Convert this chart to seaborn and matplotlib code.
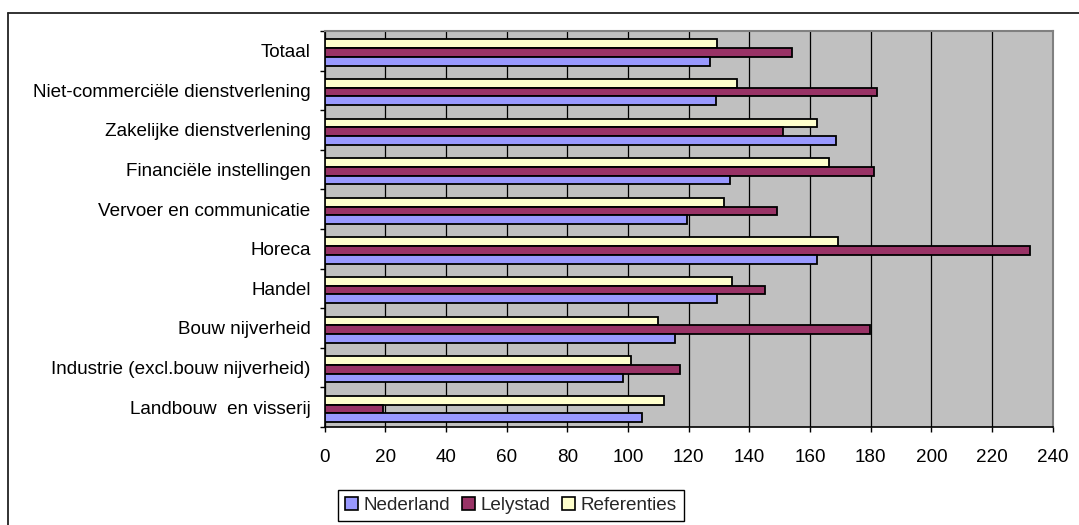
import numpy as np
import pandas as pd
import matplotlib
matplotlib.use("Agg")
import matplotlib.pyplot as plt
from matplotlib.patches import Patch
from matplotlib.lines import Line2D
import seaborn as sns

# Sectors, top to bottom
sectors = [
    "Totaal",
    "Niet-commerciële dienstverlening",
    "Zakelijke dienstverlening",
    "Financiële instellingen",
    "Vervoer en communicatie",
    "Horeca",
    "Handel",
    "Bouw nijverheid",
    "Industrie (excl.bouw nijverheid)",
    "Landbouw  en visserij",
]

nederland = [127.1, 128.9, 168.6, 133.5, 119.6, 162.2, 129.4, 115.4, 98.4, 104.8]
lelystad = [154.2, 182.1, 151.2, 181.0, 149.2, 232.5, 145.3, 179.9, 117.2, 19.3]
referenties = [129.4, 135.8, 162.3, 166.4, 131.8, 169.3, 134.2, 110.0, 100.9, 112.0]

series_names = ["Nederland", "Lelystad", "Referenties"]
series_colors = {"Nederland": "#9999FF", "Lelystad": "#993366", "Referenties": "#FFFFCC"}
x_ticks = list(range(0, 241, 20))

df = pd.concat([
    pd.DataFrame({"sector": sectors, "serie": "Nederland", "waarde": nederland}),
    pd.DataFrame({"sector": sectors, "serie": "Lelystad", "waarde": lelystad}),
    pd.DataFrame({"sector": sectors, "serie": "Referenties", "waarde": referenties}),
])

FS = 13.6
sns.set_theme(style="white")
plt.rcParams["font.family"] = ["Liberation Sans", "DejaVu Sans"]
plt.rcParams["font.size"] = FS

fig = plt.figure(figsize=(10.79, 5.25), dpi=100)
ax = fig.add_axes([324.5 / 1079, 1 - 427 / 525, (1052.7 - 324.5) / 1079, (427 - 31) / 525])
ax.set_facecolor("#C0C0C0")

sns.barplot(
    data=df, y="sector", x="waarde", hue="serie",
    order=sectors, hue_order=["Referenties", "Lelystad", "Nederland"],
    palette=series_colors, orient="h", width=0.66, gap=0,
    edgecolor="black", linewidth=1.3, saturation=1, legend=False, ax=ax, zorder=3,
)

shift = 0.042
n = len(sectors)
ax.set_ylim(n - 0.5 - shift, -0.5 - shift)
ax.set_xlim(0, 240)
ax.set_xticks(x_ticks)
ax.set_xticklabels([str(t) for t in x_ticks])
ax.set_yticks(np.arange(n) - shift)
ax.set_yticklabels(sectors)
ax.set_yticks(np.arange(n + 1) - 0.5 - shift, minor=True)
ax.set_xlabel("")
ax.set_ylabel("")

ax.xaxis.grid(True, color="black", linewidth=0.9, zorder=1)
ax.yaxis.grid(False)
ax.set_axisbelow(True)

ax.tick_params(axis="y", which="major", length=0, pad=10, labelsize=FS, colors="black")
ax.tick_params(axis="y", which="minor", left=True, length=3.5, width=1, color="black", direction="out")
ax.tick_params(axis="x", which="major", bottom=True, length=3.6, width=1, color="black",
               direction="out", pad=12, labelsize=FS, labelcolor="black")

for side in ("left", "bottom"):
    ax.spines[side].set_color("black")
    ax.spines[side].set_linewidth(1.2)
for side in ("top", "right"):
    ax.spines[side].set_color("#808080")
    ax.spines[side].set_linewidth(1.5)

# Legend below the plot
handles = [Patch(facecolor=series_colors[s], edgecolor="black", linewidth=1.2, label=s)
           for s in series_names]
leg = fig.legend(
    handles=handles, loc="center", bbox_to_anchor=(511 / 1079, 1 - 505.5 / 525),
    ncol=3, frameon=True, fancybox=False, framealpha=1, edgecolor="black",
    handlelength=0.7, handleheight=0.7, handletextpad=0.3, columnspacing=0.6,
    borderpad=0.35, fontsize=FS,
)
leg.get_frame().set_linewidth(1.0)

# Outer chart frame (left and top edges)
fig.add_artist(Line2D([8.3 / 1079, 8.3 / 1079], [0, 1 - 13 / 525], transform=fig.transFigure,
                      color="#222222", linewidth=1.3))
fig.add_artist(Line2D([8.3 / 1079, 1], [1 - 13 / 525, 1 - 13 / 525], transform=fig.transFigure,
                      color="#222222", linewidth=1.3))

fig.savefig("out.png", dpi=100, facecolor="white")
